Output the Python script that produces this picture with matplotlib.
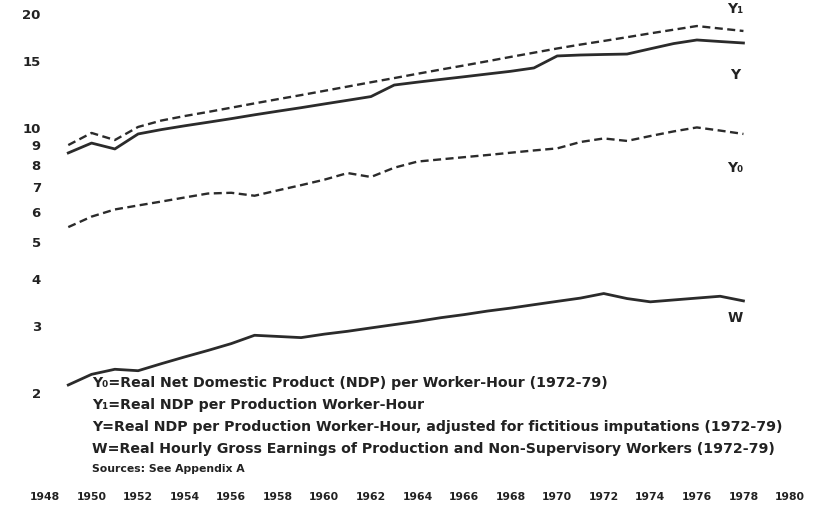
import matplotlib
matplotlib.use('Agg')
import matplotlib.pyplot as plt
from matplotlib.ticker import NullLocator

# ---- data ----
years = list(range(1949, 1979))
y0_vals = [5.48, 5.84, 6.10, 6.25, 6.40, 6.56, 6.72, 6.75, 6.63, 6.85, 7.07, 7.31, 7.61, 7.43, 7.86,
           8.16, 8.27, 8.38, 8.49, 8.61, 8.73, 8.84, 9.19, 9.39, 9.25, 9.53, 9.80, 10.04, 9.85, 9.65]
y1_vals = [9.02, 9.71, 9.30, 10.07, 10.47, 10.76, 11.03, 11.32, 11.62, 11.92, 12.22, 12.54, 12.87, 13.21, 13.55,
           13.91, 14.27, 14.63, 15.01, 15.41, 15.81, 16.22, 16.61, 16.98, 17.37, 17.78, 18.18, 18.59, 18.31, 18.04]
y_vals = [8.60, 9.13, 8.81, 9.65, 9.91, 10.14, 10.36, 10.59, 10.84, 11.08, 11.32, 11.58, 11.84, 12.11, 12.99,
          13.22, 13.44, 13.66, 13.89, 14.12, 14.41, 15.50, 15.59, 15.64, 15.68, 16.19, 16.71, 17.08, 16.92, 16.77]
w_vals = [2.10, 2.24, 2.31, 2.29, 2.39, 2.49, 2.59, 2.70, 2.84, 2.82, 2.80, 2.86, 2.91, 2.97, 3.03,
          3.09, 3.16, 3.22, 3.29, 3.35, 3.42, 3.49, 3.56, 3.66, 3.55, 3.48, 3.52, 3.56, 3.60, 3.50]

ytick_vals = [2, 3, 4, 5, 6, 7, 8, 9, 10, 15, 20]
xtick_years = list(range(1948, 1981, 2))

series_labels = ["Y\u2081", "Y", "Y\u2080", "W"]
label_values = [20.6, 13.8, 7.85, 3.15]
label_year = 1977.64

legend_lines = [
    "Y\u2080=Real Net Domestic Product (NDP) per Worker-Hour (1972-79)",
    "Y\u2081=Real NDP per Production Worker-Hour",
    "Y=Real NDP per Production Worker-Hour, adjusted for fictitious imputations (1972-79)",
    "W=Real Hourly Gross Earnings of Production and Non-Supervisory Workers (1972-79)",
]
sources_text = "Sources: See Appendix A"

# ---- figure ----
W_PX, H_PX = 814, 512
fig = plt.figure(figsize=(W_PX / 100, H_PX / 100), dpi=100)
fig.patch.set_facecolor('white')
ax = fig.add_axes([45 / W_PX, 1 - 393 / H_PX, 745 / W_PX, 379 / H_PX])
ax.set_facecolor('none')
ax.set_yscale('log')
ax.set_xlim(1948, 1980)
ax.set_ylim(2, 20)
for s in ax.spines.values():
    s.set_visible(False)

ink = '#2b2b2b'
ax.plot(years, y1_vals, color=ink, lw=1.7, dashes=(3.4, 1.9), clip_on=False)
ax.plot(years, y_vals, color=ink, lw=2.0, clip_on=False)
ax.plot(years, y0_vals, color=ink, lw=1.7, dashes=(3.4, 1.9), clip_on=False)
ax.plot(years, w_vals, color=ink, lw=2.0, clip_on=False)

ax.set_yticks(ytick_vals)
ax.set_yticklabels([str(v) for v in ytick_vals], fontsize=9.5, fontweight='bold',
                   color='#222222')
ax.yaxis.set_minor_locator(NullLocator())
ax.tick_params(axis='y', length=0, pad=3)

ax.set_xticks(xtick_years)
ax.set_xticklabels([str(y) for y in xtick_years], fontsize=7.8, fontweight='bold',
                   color='#222222')
ax.xaxis.set_minor_locator(NullLocator())
ax.tick_params(axis='x', length=0, pad=71)

for lab, val in zip(series_labels, label_values):
    ax.text(label_year, val, lab, fontsize=10, fontweight='bold', color='#222222',
            ha='center', va='center', clip_on=False)

legend_y = [383, 405, 427, 449]
for txt, yp in zip(legend_lines, legend_y):
    fig.text(92 / W_PX, 1 - yp / H_PX, txt, fontsize=10.2, fontweight='bold',
             color='#222222', ha='left', va='center')
fig.text(92 / W_PX, 1 - 469 / H_PX, sources_text, fontsize=7.8, fontweight='bold',
         color='#222222', ha='left', va='center')

fig.savefig('out.png', dpi=100, facecolor='white')
